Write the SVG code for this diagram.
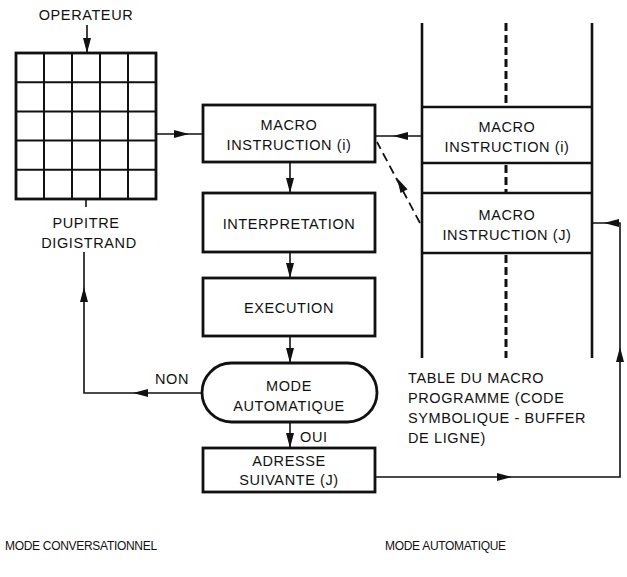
<svg xmlns="http://www.w3.org/2000/svg" width="627" height="577" viewBox="0 0 627 577">
<defs>
<style>
text{font-family:"Liberation Sans",Arial,Helvetica,sans-serif;font-size:14.5px;letter-spacing:0.6px;fill:#111;}
.c{text-anchor:middle;}
.sm{font-size:12px;letter-spacing:-0.3px;}
.box{fill:#fff;stroke:#111;stroke-width:2.8;}
.grid{fill:none;stroke:#111;stroke-width:2;}
.con{fill:none;stroke:#111;stroke-width:1.6;}
.dash{fill:none;stroke:#111;stroke-width:1.8;stroke-dasharray:9 5;}
.vl{fill:none;stroke:#111;stroke-width:2.6;}
.vd{fill:none;stroke:#111;stroke-width:3;stroke-dasharray:8 4;}
.ah{fill:#111;stroke:none;}
</style>
<path id="ahd" d="M0,0 L-15,-4 L-15,4 Z"/>
</defs>

<g id="pupitre">
<rect class="box" x="16" y="53" width="140" height="146"/>
<path class="grid" d="M44,53V199M72,53V199M100,53V199M128,53V199M16,82.2H156M16,111.4H156M16,140.6H156M16,169.8H156"/>
<text class="c" x="86" y="20">OPERATEUR</text>
<text class="c" x="86" y="228">PUPITRE</text>
<text class="c" x="89" y="248">DIGISTRAND</text>
</g>

<g id="macro-i">
<rect class="box" x="203" y="105" width="172" height="57"/>
<text class="c" x="289" y="130">MACRO</text>
<text class="c" x="289" y="150">INSTRUCTION (i)</text>
</g>

<g id="interpretation">
<rect class="box" x="203" y="193" width="172" height="59"/>
<text class="c" x="289" y="229">INTERPRETATION</text>
</g>

<g id="execution">
<rect class="box" x="203" y="278" width="172" height="58"/>
<text class="c" x="289" y="313">EXECUTION</text>
</g>

<g id="mode-auto">
<rect class="box" x="202" y="363" width="175" height="59" rx="29.5" ry="29.5"/>
<text class="c" x="289" y="391">MODE</text>
<text class="c" x="289" y="411">AUTOMATIQUE</text>
</g>

<g id="adresse">
<rect class="box" x="203" y="448" width="172" height="44"/>
<text class="c" x="289" y="466">ADRESSE</text>
<text class="c" x="289" y="485">SUIVANTE (J)</text>
</g>

<g id="table">
<path class="vl" d="M422,23V358M592,23V358"/>
<path class="vl" d="M422,107H592M422,163H592M422,193H592M422,253H592"/>
<path class="vd" d="M506,23V107M506,165V193M506,255V358"/>
<text class="c" x="507" y="132">MACRO</text>
<text class="c" x="507" y="152">INSTRUCTION (i)</text>
<text class="c" x="507" y="220">MACRO</text>
<text class="c" x="507" y="240">INSTRUCTION (J)</text>
<text x="408" y="383">TABLE DU MACRO</text>
<text x="408" y="403">PROGRAMME (CODE</text>
<text x="408" y="423">SYMBOLIQUE - BUFFER</text>
<text x="408" y="443">DE LIGNE)</text>
</g>

<g id="labels">
<text x="155" y="384">NON</text>
<text x="300" y="442">OUI</text>
<text class="sm" x="5" y="550">MODE CONVERSATIONNEL</text>
<text class="sm" x="385" y="550">MODE AUTOMATIQUE</text>
</g>

<g id="connectors">
<path class="con" d="M87,25V53"/>
<use href="#ahd" class="ah" transform="translate(87,53) rotate(90)"/>
<path class="con" d="M86,199V207"/>
<path class="con" d="M156,134H203"/>
<use href="#ahd" class="ah" transform="translate(189,134)"/>
<path class="con" d="M290,162V193"/>
<use href="#ahd" class="ah" transform="translate(290,193) rotate(90)"/>
<path class="con" d="M290,252V278"/>
<use href="#ahd" class="ah" transform="translate(290,278) rotate(90)"/>
<path class="con" d="M290,336V363"/>
<use href="#ahd" class="ah" transform="translate(290,363) rotate(90)"/>
<path class="con" d="M290,422V448"/>
<use href="#ahd" class="ah" transform="translate(290,448) rotate(90)"/>
<path class="con" d="M202,393H84V252"/>
<use href="#ahd" class="ah" transform="translate(133,393) rotate(180)"/>
<use href="#ahd" class="ah" transform="translate(84,287) rotate(-90)"/>
<path class="con" d="M422,136H375"/>
<use href="#ahd" class="ah" transform="translate(393,136) rotate(180)"/>
<path class="dash" d="M420,223L377,142"/>
<use href="#ahd" class="ah" transform="translate(397,178) rotate(-118)"/>
<path class="con" d="M375,477H620V223H592"/>
<use href="#ahd" class="ah" transform="translate(512,477)"/>
<use href="#ahd" class="ah" transform="translate(620,347) rotate(-90)"/>
<use href="#ahd" class="ah" transform="translate(604,223) rotate(180)"/>
</g>
</svg>
